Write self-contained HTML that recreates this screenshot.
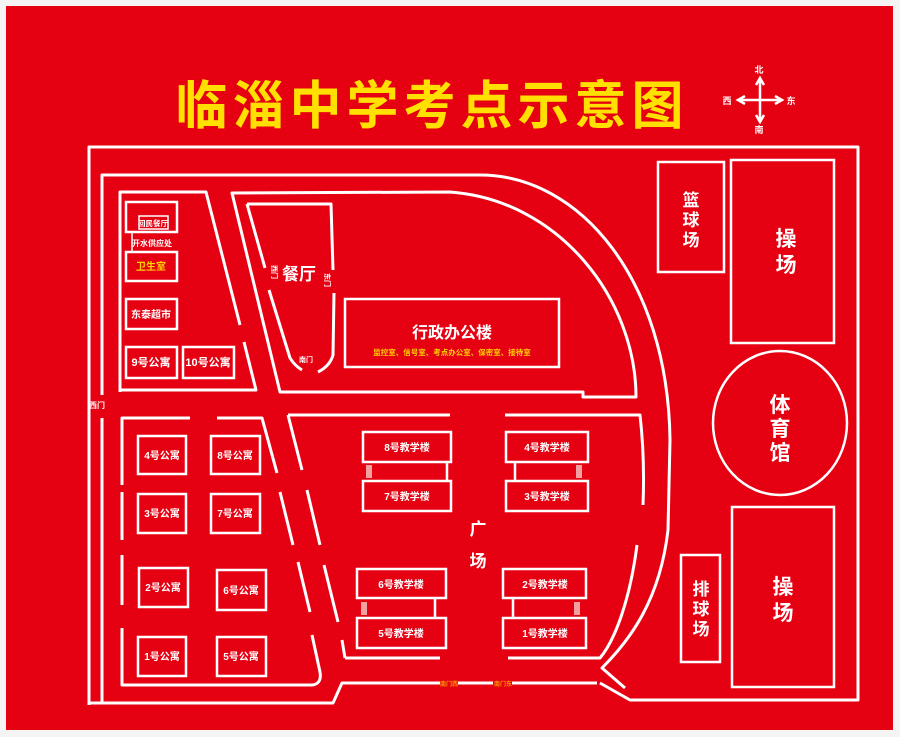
<!DOCTYPE html>
<html><head><meta charset="utf-8"><style>
html,body{margin:0;padding:0;background:#f4f4f4;width:900px;height:737px;overflow:hidden}
svg{display:block}
text{font-family:"Liberation Sans","Noto Sans CJK SC",sans-serif;font-weight:bold}
</style></head><body>
<svg width="900" height="737" viewBox="0 0 900 737" xmlns="http://www.w3.org/2000/svg">
<rect x="6" y="6" width="887" height="724" fill="#e50012"/>
<text x="432" y="124" font-size="52" fill="#ffe000" text-anchor="middle" letter-spacing="5">临淄中学考点示意图</text>
<g stroke="#fff" stroke-width="2.5" fill="none">
<line x1="740" y1="100" x2="780" y2="100"/><line x1="760" y1="80" x2="760" y2="120"/>
<path d="M756,85 L760,78 L764,85 M756,115 L760,122 L764,115 M745,96 L738,100 L745,104 M775,96 L782,100 L775,104"/>
</g>
<g fill="#fff" font-size="9" text-anchor="middle">
<text x="759" y="73">北</text><text x="759" y="133">南</text><text x="727" y="104">西</text><text x="791" y="104">东</text>
</g>
<g stroke="#fff" stroke-width="3" fill="none" stroke-linejoin="round">
<path d="M89,705 L89,147 L858,147 L858,700 L630,700 L600,683"/>
<path d="M89,705 L89,703 L333,703 L342,683 L440,683"/>
<path d="M458,683 L493,683"/><path d="M512,683 L597,683"/>
<path d="M102,395 L102,175 L480,175 C580,175 668,280 670,440 L668,530 C660,600 630,640 602,668 L625,688"/>
<path d="M102,418 L102,702"/>
<path d="M232,193 L450,192 C560,200 636,300 636,397 L583,397 L583,392 L280,392 Z"/>
<path d="M120,392 L120,192 L206,192 L240,325"/>
<path d="M244,342 L256,390 L120,390"/>
<path d="M247,204 L331,204 L333,270"/>
<path d="M247,204 L265,268"/>
<path d="M269,290 L290,358 Q295,366 302,370"/>
<path d="M334,293 L333,355 Q330,366 318,372"/>
<path d="M288,415 L450,415"/><path d="M505,415 L640,415 C644,450 644,480 643,505"/>
<path d="M637,545 C630,600 615,640 600,658 L508,658"/>
<path d="M440,658 L345,658"/>
<path d="M288,415 L302,470"/><path d="M307,490 L320,545"/><path d="M324,565 L338,622"/><path d="M342,640 L345,658"/>
<path d="M122,485 L122,418 L190,418"/><path d="M217,418 L262,418 L277,473"/>
<path d="M122,492 L122,540"/><path d="M122,555 L122,605"/>
<path d="M122,628 L122,685 L312,685 Q322,684 320,672 L312,635"/>
<path d="M280,492 L293,545"/><path d="M298,562 L310,612"/>
</g>
<g stroke="#fff" stroke-width="2.5" fill="none">
<rect x="126" y="202" width="51" height="30"/><rect x="139" y="216" width="29" height="13" stroke-width="1.5"/>
<path d="M132,232 L132,252" stroke-width="1.5"/>
<rect x="126" y="252" width="51" height="29"/>
<rect x="126" y="299" width="51" height="30"/>
<rect x="126" y="347" width="51" height="31"/><rect x="183" y="347" width="51" height="31"/>
<rect x="345" y="299" width="214" height="68"/>
<rect x="363" y="432" width="88" height="30"/><rect x="363" y="481" width="88" height="30"/><line x1="447" y1="462" x2="447" y2="481"/>
<rect x="506" y="432" width="82" height="30"/><rect x="506" y="481" width="82" height="30"/><line x1="515" y1="462" x2="515" y2="481"/>
<rect x="357" y="569" width="89" height="29"/><rect x="357" y="618" width="89" height="30"/><line x1="435" y1="598" x2="435" y2="618"/>
<rect x="503" y="569" width="83" height="29"/><rect x="503" y="618" width="83" height="30"/><line x1="513" y1="598" x2="513" y2="618"/>
<rect x="138" y="436" width="48" height="38"/><rect x="211" y="436" width="49" height="38"/>
<rect x="138" y="494" width="48" height="39"/><rect x="211" y="494" width="49" height="39"/>
<rect x="139" y="568" width="49" height="39"/><rect x="217" y="570" width="49" height="40"/>
<rect x="138" y="637" width="48" height="39"/><rect x="217" y="637" width="49" height="39"/>
<rect x="658" y="162" width="66" height="110"/>
<rect x="731" y="160" width="103" height="183"/>
<ellipse cx="780" cy="423" rx="67" ry="72"/>
<rect x="732" y="507" width="102" height="180"/>
<rect x="681" y="555" width="39" height="107"/>
</g>
<g fill="#f3a0a0">
<rect x="366" y="465" width="6" height="13"/><rect x="576" y="465" width="6" height="13"/>
<rect x="361" y="602" width="6" height="13"/><rect x="574" y="602" width="6" height="13"/>
</g>
<g fill="#fff" font-size="10" text-anchor="middle">
<text x="153" y="226" font-size="7.5">回民餐厅</text>
<text x="152" y="246" font-size="8">开水供应处</text>
<text x="151" y="270" fill="#ffd400">卫生室</text>
<text x="151" y="318">东泰超市</text>
<text x="151" y="366" font-size="11">9号公寓</text><text x="208" y="366" font-size="11">10号公寓</text>
<text x="299" y="280" font-size="17">餐厅</text>
<text x="306" y="362" font-size="7">南门</text>
<text x="97" y="408" font-size="8">西门</text>
<text x="452" y="338" font-size="16">行政办公楼</text>
<text x="452" y="355" font-size="7.5" fill="#ffd400">监控室、信号室、考点办公室、保密室、接待室</text>
<text x="407" y="451">8号教学楼</text><text x="407" y="500">7号教学楼</text>
<text x="547" y="451">4号教学楼</text><text x="547" y="500">3号教学楼</text>
<text x="401" y="588">6号教学楼</text><text x="401" y="637">5号教学楼</text>
<text x="545" y="588">2号教学楼</text><text x="545" y="637">1号教学楼</text>
<text x="478" y="535" font-size="17">广</text><text x="478" y="567" font-size="17">场</text>
<text x="449" y="686" font-size="6" fill="#ff9a00">南门西</text><text x="503" y="686" font-size="6" fill="#ff9a00">南门东</text>
<text x="162" y="459">4号公寓</text><text x="235" y="459">8号公寓</text>
<text x="162" y="517">3号公寓</text><text x="235" y="517">7号公寓</text>
<text x="163" y="591">2号公寓</text><text x="241" y="594">6号公寓</text>
<text x="162" y="660">1号公寓</text><text x="241" y="660">5号公寓</text>
<g font-size="17"><text x="691" y="206">篮</text><text x="691" y="226">球</text><text x="691" y="246">场</text>
<text x="701" y="595">排</text><text x="701" y="615">球</text><text x="701" y="635">场</text></g>
<g font-size="21"><text x="786" y="246">操</text><text x="786" y="272">场</text>
<text x="783" y="594">操</text><text x="783" y="620">场</text>
<text x="780" y="412">体</text><text x="780" y="436">育</text><text x="780" y="460">馆</text></g>
</g>
<g fill="#fff" font-size="7" text-anchor="middle">
<text x="272" y="272" transform="rotate(90 272 272)">西门</text>
<text x="325" y="280" transform="rotate(90 325 280)">东门</text>
</g>
</svg>
</body></html>
